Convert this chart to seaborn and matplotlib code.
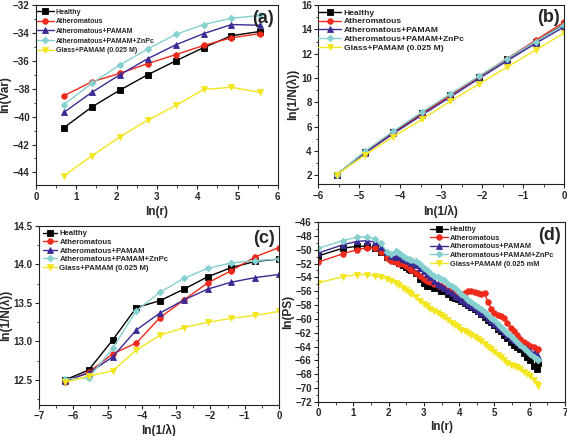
import numpy as np
import pandas as pd
import matplotlib
matplotlib.use("Agg")
import matplotlib.pyplot as plt
from matplotlib.ticker import MultipleLocator, AutoMinorLocator
import seaborn as sns

sns.set_style("ticks")
plt.rcParams['font.family'] = ['Liberation Sans', 'DejaVu Sans']
plt.rcParams['font.weight'] = 'bold'
plt.rcParams['axes.labelweight'] = 'bold'

series_names = ["Healthy", "Atheromatous", "Atheromatous+PAMAM",
                "Atheromatous+PAMAM+ZnPc", "Glass+PAMAM (0.025 M)"]
glass_label_d = "Glass+PAMAM (0.025 mM"
colors = ["#000000", "#ee2a1b", "#3b2a94", "#86d0d0", "#f3e61e"]
markers = ["s", "o", "^", "D", "v"]

# ---- panel (a) ----
a_x = [0.69, 1.39, 2.08, 2.77, 3.47, 4.16, 4.85, 5.55]
a_healthy = [-40.8, -39.3, -38.1, -37.0, -36.0, -35.05, -34.2, -33.9]
a_ath = [-38.5, -37.5, -36.9, -36.2, -35.55, -34.9, -34.35, -34.05]
a_pamam = [-39.7, -38.25, -37.0, -35.85, -34.85, -34.05, -33.4, -33.45]
a_znpc = [-39.15, -37.6, -36.3, -35.15, -34.1, -33.4, -32.95, -32.75]
a_glass = [-44.25, -42.8, -41.45, -40.25, -39.2, -38.05, -37.9, -38.25]

# ---- panel (b) ----
b_x = [-5.55, -4.85, -4.16, -3.47, -2.77, -2.08, -1.39, -0.69, 0.0]
b_healthy = [2.05, 3.95, 5.55, 7.1, 8.6, 10.1, 11.55, 13.0, 14.4]
b_ath = [2.05, 3.9, 5.5, 7.05, 8.6, 10.1, 11.6, 13.1, 14.6]
b_pamam = [2.05, 3.85, 5.45, 6.95, 8.45, 9.95, 11.4, 12.85, 14.2]
b_znpc = [2.05, 4.0, 5.65, 7.2, 8.7, 10.15, 11.6, 13.0, 14.35]
b_glass = [2.05, 3.7, 5.2, 6.6, 8.1, 9.5, 10.9, 12.3, 13.7]

# ---- panel (c) ----
c_x = [-6.24, -5.55, -4.85, -4.16, -3.47, -2.77, -2.08, -1.39, -0.69, 0.0]
c_healthy = [12.5, 12.63, 13.02, 13.44, 13.53, 13.68, 13.84, 13.96, 14.04, 14.07]
c_ath = [12.48, 12.6, 12.84, 12.98, 13.31, 13.54, 13.76, 13.92, 14.1, 14.22]
c_pamam = [12.49, 12.59, 12.8, 13.15, 13.37, 13.54, 13.68, 13.77, 13.83, 13.87]
c_znpc = [12.51, 12.53, 12.91, 13.4, 13.64, 13.82, 13.95, 14.02, 14.05, 14.07]
c_glass = [12.47, 12.55, 12.62, 12.89, 13.08, 13.18, 13.25, 13.3, 13.34, 13.39]

# ---- panel (d) ---- (r values; x axis is ln(r))
d_r = [1, 2, 3, 4, 5, 6, 7, 8, 9, 10, 11, 12, 13, 14, 16, 18, 20, 22, 24, 27,
       30, 33, 36, 40, 44, 48, 53, 58, 64, 70, 77, 85, 93, 102, 112, 123, 135,
       148, 162, 178, 195, 214, 235, 258, 283, 310, 340, 373, 409, 449, 493, 512]
d_healthy = [-50.9, -49.8, -49.5, -49.5, -49.8, -50.4, -51.0, -51.4, -51.6, -51.9,
             -52.2, -52.5, -52.8, -53.0, -53.4, -54.2, -54.8, -55.3, -55.2, -55.5,
             -55.6, -55.9, -56.0, -56.4, -56.8, -57.0, -57.1, -57.4, -57.7, -58.0,
             -58.3, -58.5, -58.9, -59.3, -59.7, -60.1, -60.5, -60.9, -61.4, -61.8,
             -62.3, -62.8, -63.3, -63.7, -64.0, -64.4, -64.9, -65.5, -66.0, -66.8,
             -67.3, -66.3]
d_ath = [-51.8, -50.6, -50.0, -49.7, -49.8, -50.4, -51.2, -51.7, -51.8, -52.0,
         -52.1, -52.4, -52.7, -53.0, -53.3, -53.8, -54.2, -54.5, -54.7, -54.9,
         -55.1, -55.2, -55.5, -55.8, -56.0, -56.2, -56.5, -56.4, -56.2, -56.0,
         -56.0, -56.1, -56.3, -56.4, -56.3, -57.5, -58.5, -59.2, -59.5, -59.6,
         -59.8, -60.6, -61.3, -61.8, -62.3, -62.9, -63.4, -63.6, -63.9, -64.1,
         -64.5, -64.3]
d_pamam = [-50.5, -49.3, -48.8, -48.7, -48.9, -49.6, -50.4, -50.9, -51.0, -51.1,
           -51.3, -51.5, -51.7, -51.9, -52.2, -52.7, -53.1, -53.5, -53.9, -54.5,
           -54.9, -55.3, -55.5, -55.9, -56.3, -56.7, -56.9, -57.2, -57.5, -57.8,
           -58.1, -58.4, -58.8, -59.2, -59.5, -59.9, -60.3, -60.7, -61.1, -61.5,
           -61.9, -62.3, -62.7, -63.1, -63.4, -63.7, -64.0, -64.3, -64.6, -64.9,
           -65.2, -65.4]
d_znpc = [-49.8, -48.7, -48.2, -48.1, -48.4, -49.1, -50.3, -50.6, -50.2, -50.5,
          -50.9, -51.2, -51.4, -51.5, -51.6, -52.1, -52.6, -53.0, -53.4, -53.8,
          -54.0, -54.2, -54.4, -54.9, -55.3, -55.6, -56.0, -56.4, -56.8, -57.2,
          -57.6, -58.0, -58.3, -58.6, -59.0, -59.4, -59.8, -60.2, -60.7, -61.1,
          -61.6, -62.0, -62.5, -62.9, -63.3, -63.7, -64.2, -64.7, -65.1, -65.5,
          -65.8, -66.0]
d_glass = [-54.8, -53.9, -53.6, -53.6, -53.8, -54.0, -54.2, -54.5, -54.8, -55.1,
           -55.5, -55.8, -56.1, -56.4, -56.9, -57.4, -57.8, -58.2, -58.6, -58.9,
           -59.1, -59.4, -59.7, -60.2, -60.6, -60.9, -61.2, -61.6, -61.8, -62.1,
           -62.3, -62.6, -62.9, -63.2, -63.6, -64.0, -64.4, -64.8, -65.2, -65.5,
           -65.9, -66.3, -66.6, -66.8, -67.0, -67.3, -67.6, -67.9, -68.2, -68.8,
           -69.4, -69.7]

fig = plt.figure(figsize=(5.67, 4.36), dpi=100)

def mk_axes(l, r, b, t):
    return fig.add_axes([l, b, r - l, t - b])

ax_a = mk_axes(0.0635, 0.490, 0.5757, 0.9885)
ax_b = mk_axes(0.561, 0.9947, 0.578, 0.9885)
ax_c = mk_axes(0.0688, 0.492, 0.072, 0.4817)
ax_d = mk_axes(0.561, 0.9965, 0.078, 0.4908)

def draw(ax, x, ys, labels, ms=4.0):
    for y, lab, c, m in zip(ys, labels, colors, markers):
        df = pd.DataFrame({"x": x, "y": y})
        sns.lineplot(data=df, x="x", y="y", ax=ax, color=c, marker=m,
                     markersize=ms if m != "D" else ms * 0.85,
                     markeredgecolor=c, markeredgewidth=0.6,
                     linewidth=1.0, label=lab, sort=False)

def style(ax, xlabel, ylabel, xlim, ylim, xmaj, ymaj, letter, leg_anchor,
          leg_fs, leg_hl, leg_ls, tpad=2.0, lpad=3.0):
    ax.set_xlim(*xlim)
    ax.set_ylim(*ylim)
    ax.xaxis.set_major_locator(MultipleLocator(xmaj))
    ax.yaxis.set_major_locator(MultipleLocator(ymaj))
    ax.xaxis.set_minor_locator(AutoMinorLocator(2))
    ax.yaxis.set_minor_locator(AutoMinorLocator(2))
    ax.tick_params(which="major", direction="out", length=3, width=0.8,
                   labelsize=7, pad=1.5)
    ax.tick_params(axis="x", which="major", pad=tpad)
    ax.tick_params(which="minor", direction="out", length=1.8, width=0.6)
    for lab in ax.get_xticklabels() + ax.get_yticklabels():
        lab.set_fontweight("bold")
    for s in ax.spines.values():
        s.set_visible(True)
        s.set_linewidth(0.8)
        s.set_color("#222222")
    ax.set_xlabel(xlabel, fontsize=8.5, fontweight="bold", labelpad=lpad)
    ax.set_ylabel(ylabel, fontsize=8.5, fontweight="bold", labelpad=1)
    ax.text(0.985, 0.975, letter, transform=ax.transAxes, ha="right", va="top",
            fontsize=13, fontweight="bold")
    leg = ax.legend(loc="upper left", bbox_to_anchor=leg_anchor, frameon=False,
                    fontsize=leg_fs, handlelength=leg_hl, handletextpad=0.3,
                    labelspacing=leg_ls, borderaxespad=0.0, borderpad=0.0)
    for t in leg.get_texts():
        t.set_fontweight("bold")

draw(ax_a, a_x, [a_healthy, a_ath, a_pamam, a_znpc, a_glass], series_names)
style(ax_a, "ln(r)", "ln(Var)", (0, 6), (-44.9, -32), 1, 2, "(a)",
      (0.004, 0.98), 5.0, 2.4, 0.38)

draw(ax_b, b_x, [b_healthy, b_ath, b_pamam, b_znpc, b_glass], series_names)
style(ax_b, "ln(1/λ)", "ln(1/N(λ))", (-6, 0), (1.3, 16), 1, 2, "(b)",
      (0.0, 0.98), 6.1, 2.7, 0.12)

draw(ax_c, c_x, [c_healthy, c_ath, c_pamam, c_znpc, c_glass], series_names)
style(ax_c, "ln(1/λ)", "ln(1/N(λ))", (-7, 0), (12.18, 14.5), 1, 0.5, "(c)",
      (0.017, 0.978), 5.6, 1.8, 0.15, tpad=1.5, lpad=2.0)

d_x = np.log(np.array(d_r, dtype=float))
labels_d = series_names[:4] + [glass_label_d]
draw(ax_d, d_x, [d_healthy, d_ath, d_pamam, d_znpc, d_glass], labels_d, ms=4.0)
style(ax_d, "ln(r)", "ln(PS)", (0, 7), (-72, -46), 1, 2, "(d)",
      (0.453, 0.978), 5.3, 2.4, 0.2, tpad=1.5, lpad=2.0)

fig.savefig("out.png", dpi=100)
